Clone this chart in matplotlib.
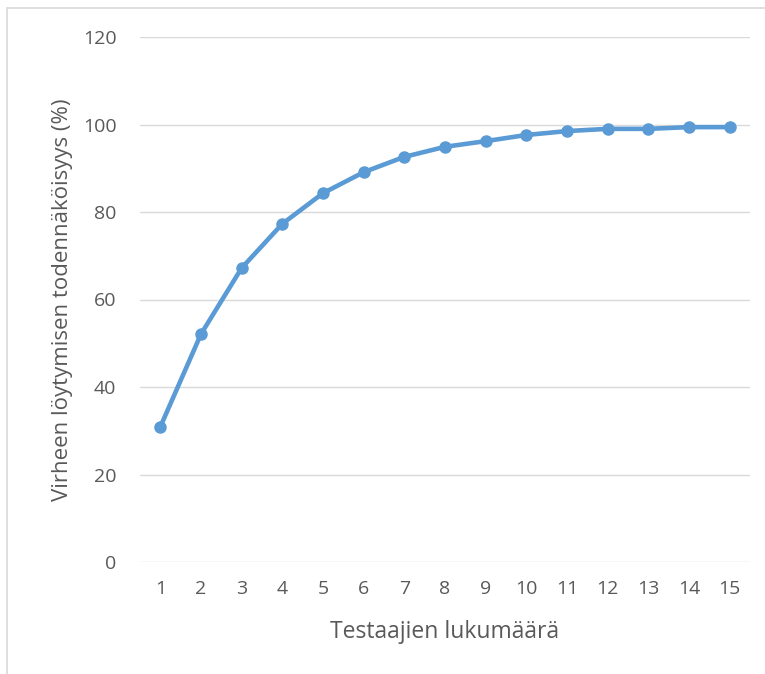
import matplotlib
matplotlib.use("Agg")
import matplotlib.pyplot as plt
from matplotlib.patches import Rectangle

testers = list(range(1, 16))
probability = [30.9, 52.1, 67.2, 77.3, 84.3, 89.1, 92.6, 94.9, 96.2, 97.6, 98.5, 99.0, 99.0, 99.4, 99.4]
y_ticks = [0, 20, 40, 60, 80, 100, 120]
x_label = "Testaajien lukumäärä"
y_label = "Virheen löytymisen todennäköisyys (%)"

plt.rcParams['font.family'] = ['Open Sans', 'DejaVu Sans']
W, H = 765, 674
fig = plt.figure(figsize=(W/100, H/100), dpi=100)
fig.patches.append(Rectangle((7/W, -0.1), 1.2, 1 - 8/H + 0.1, transform=fig.transFigure,
                             fill=False, edgecolor='#D9D9D9', linewidth=1.2))
ax = fig.add_axes([140/W, 1 - 562/H, 610/W, 525/H])
ax.plot(testers, probability, color='#5B9BD5', linewidth=3.3, marker='o', markersize=8,
        solid_capstyle='round', solid_joinstyle='round', zorder=3)
ax.set_xlim(0.5, 15.5)
ax.set_ylim(0, 120)
ax.set_yticks(y_ticks)
ax.set_xticks(testers)
ax.yaxis.grid(True, color='#D9D9D9', linewidth=1)
ax.set_axisbelow(True)
for s in ax.spines.values():
    s.set_visible(False)
ax.tick_params(length=0, colors='#595959', labelsize=14)
ax.tick_params(axis='y', pad=17)
ax.tick_params(axis='x', pad=13)
ax.set_xlabel(x_label, color='#595959', fontsize=16.5, labelpad=16)
ax.set_ylabel(y_label, color='#595959', fontsize=16, labelpad=7)
fig.savefig("out.png", dpi=100)
